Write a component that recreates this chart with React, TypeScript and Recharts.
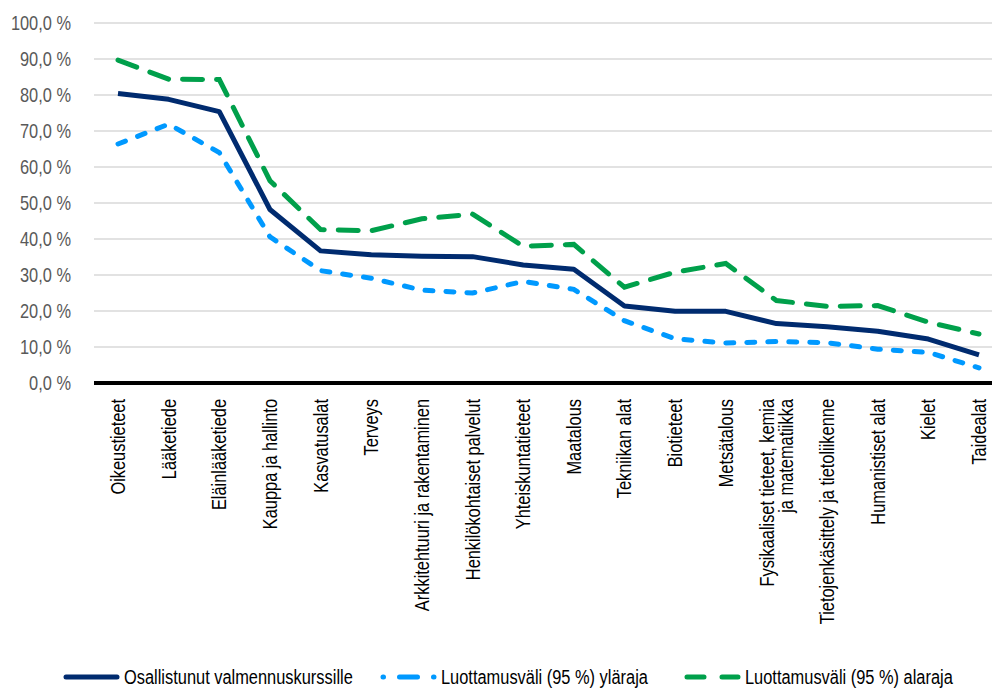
import React from 'react';
import { LineChart, Line, XAxis, YAxis, CartesianGrid, Legend } from 'recharts';

const categories = [
  'Oikeustieteet',
  'Lääketiede',
  'Eläinlääketiede',
  'Kauppa ja hallinto',
  'Kasvatusalat',
  'Terveys',
  'Arkkitehtuuri ja rakentaminen',
  'Henkilökohtaiset palvelut',
  'Yhteiskuntatieteet',
  'Maatalous',
  'Tekniikan alat',
  'Biotieteet',
  'Metsätalous',
  'Fysikaaliset tieteet, kemia\nja matematiikka',
  'Tietojenkäsittely ja tietoliikenne',
  'Humanistiset alat',
  'Kielet',
  'Taidealat',
];

const participated = [80.4, 78.8, 75.4, 48.2, 36.7, 35.6, 35.2, 35.1, 32.8, 31.6, 21.4, 19.9, 19.9, 16.5, 15.6, 14.4, 12.2, 7.8];
const upperBound = [66.4, 71.9, 64.0, 40.6, 31.2, 29.1, 25.8, 25.0, 28.2, 26.0, 17.3, 12.3, 11.1, 11.5, 11.2, 9.4, 8.5, 4.2];
const lowerBound = [89.7, 84.4, 84.3, 56.2, 42.6, 42.3, 45.6, 46.9, 38.0, 38.5, 26.6, 30.8, 33.2, 22.9, 21.3, 21.5, 16.9, 13.6];

const yTicks = [0, 10, 20, 30, 40, 50, 60, 70, 80, 90, 100];

const seriesKeys = ['participated', 'upper', 'lower'];
const seriesNames = [
  'Osallistunut valmennuskurssille',
  'Luottamusväli (95 %) yläraja',
  'Luottamusväli (95 %) alaraja',
];

const data = categories.map((c, i) => ({
  name: c,
  participated: participated[i],
  upper: upperBound[i],
  lower: lowerBound[i],
}));

const FONT = "'Liberation Sans', Arial, sans-serif";
const SQUEEZE = 0.82;

const NAVY = '#002B6F';
const BLUE = '#0099FF';
const GREEN = '#00A04B';

const XTick = (props: any) => {
  const { x, y, payload } = props;
  const lines: string[] = String(payload.value).split('\n');
  const lh = 19;
  const startShift = -((lines.length - 1) * lh) / 2;
  return (
    <g transform={`translate(${x},${y}) rotate(-90) scale(${SQUEEZE},1)`}>
      <text x={0} y={0} textAnchor="end" fontFamily={FONT} fontSize={20} fill="#000">
        {lines.map((l, i) => (
          <tspan key={i} x={0} dy={i === 0 ? startShift + 7 : lh}>
            {l}
          </tspan>
        ))}
      </text>
    </g>
  );
};

const YTick = (props: any) => {
  const { x, y, payload } = props;
  const label = `${Number(payload.value).toFixed(1).replace('.', ',')} %`;
  return (
    <g transform={`translate(${x},${y}) scale(${SQUEEZE},1)`}>
      <text x={0} y={0} dy={7} textAnchor="end" fontFamily={FONT} fontSize={20} fill="#595959">
        {label}
      </text>
    </g>
  );
};

const legendStyles: Record<string, { color: string; dash?: string }> = {
  participated: { color: NAVY },
  upper: { color: BLUE, dash: '0.5 16 18 16 0.5 100' },
  lower: { color: GREEN, dash: '17 18 17 100' },
};

const legendLeft = [63, 380, 684];

const LegendContent = () => {
  return (
    <div style={{ position: 'relative', width: 992, height: 26 }}>
      {seriesKeys.map((k, i) => {
        const st = legendStyles[k];
        return (
          <div
            key={k}
            style={{
              position: 'absolute',
              left: legendLeft[i],
              top: 0,
              height: 26,
              display: 'flex',
              alignItems: 'center',
              whiteSpace: 'nowrap',
            }}
          >
            <svg width={57} height={10} style={{ marginRight: 4, flex: 'none' }}>
              <line
                x1={3}
                y1={5}
                x2={54}
                y2={5}
                stroke={st.color}
                strokeWidth={5}
                strokeLinecap="round"
                strokeDasharray={st.dash}
              />
            </svg>
            <span
              style={{
                fontFamily: FONT,
                fontSize: 20,
                color: '#000',
                lineHeight: '26px',
                display: 'inline-block',
                transform: `scaleX(${SQUEEZE})`,
                transformOrigin: 'left center',
              }}
            >
              {seriesNames[i]}
            </span>
          </div>
        );
      })}
    </div>
  );
};

export default function App() {
  return (
    <div style={{ position: 'absolute', left: 0, top: 0, width: 992, height: 689, background: '#fff', overflow: 'hidden' }}>
      <LineChart width={992} height={689} data={data} margin={{ top: 23, right: 0, bottom: 0, left: 0 }}>
        <CartesianGrid vertical={false} stroke="#D9D9D9" strokeWidth={1.5} />
        <XAxis
          dataKey="name"
          scale="point"
          padding={{ left: 24, right: 13 }}
          interval={0}
          height={280}
          tickSize={0}
          tickMargin={16}
          tickLine={false}
          axisLine={{ stroke: '#000', strokeWidth: 4 }}
          tick={<XTick />}
        />
        <YAxis
          width={94}
          domain={[0, 100]}
          ticks={yTicks}
          interval={0}
          axisLine={false}
          tickLine={false}
          tickSize={6}
          tickMargin={17}
          tick={<YTick />}
        />
        <Line
          dataKey="participated"
          name={seriesNames[0]}
          stroke={NAVY}
          strokeWidth={5}
          dot={false}
          activeDot={false}
          isAnimationActive={false}
          strokeLinejoin="round"
        />
        <Line
          dataKey="upper"
          name={seriesNames[1]}
          stroke={BLUE}
          strokeWidth={5}
          strokeDasharray="8 13"
          strokeLinecap="round"
          dot={false}
          activeDot={false}
          isAnimationActive={false}
        />
        <Line
          dataKey="lower"
          name={seriesNames[2]}
          stroke={GREEN}
          strokeWidth={5}
          strokeDasharray="20 14"
          strokeLinecap="round"
          dot={false}
          activeDot={false}
          isAnimationActive={false}
        />
        <Legend
          verticalAlign="bottom"
          content={<LegendContent />}
          wrapperStyle={{ top: 664, left: 0, bottom: 'auto', width: 992, height: 26 }}
        />
      </LineChart>
    </div>
  );
}
